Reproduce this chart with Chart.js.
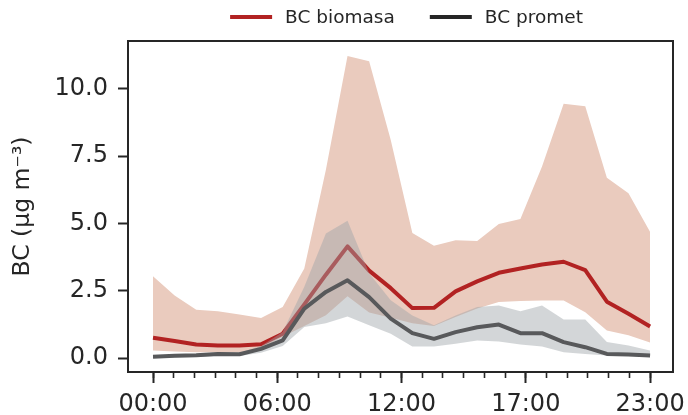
<!DOCTYPE html>
<html>
<head>
<meta charset="utf-8">
<script src="https://cdn.jsdelivr.net/npm/chart.js@4.4.1/dist/chart.umd.min.js"></script>
<style>
  html, body { margin: 0; padding: 0; background: #fff; }
  #wrap { width: 688px; height: 415px; }
</style>
</head>
<body>
<div id="wrap"><canvas id="chart" width="688" height="415"></canvas></div>
<script>
// ---- data ----
const hours = [0, 1, 2, 3, 4, 5, 6, 7, 8, 9, 10, 11, 12, 13, 14, 15, 16, 17, 18, 19, 20, 21, 22, 23];

const biomasaMedian = [0.76, 0.64, 0.51, 0.47, 0.47, 0.52, 0.91, 2.0, 3.1, 4.15, 3.25, 2.6, 1.86, 1.87, 2.48, 2.85, 3.17, 3.33, 3.48, 3.58, 3.27, 2.1, 1.65, 1.18];
const biomasaUpper  = [3.04, 2.33, 1.80, 1.74, 1.62, 1.49, 1.90, 3.33, 6.99, 11.21, 11.02, 8.1, 4.65, 4.17, 4.38, 4.35, 4.98, 5.17, 7.11, 9.44, 9.35, 6.70, 6.12, 4.69];
const biomasaLower  = [0.29, 0.25, 0.22, 0.22, 0.22, 0.35, 0.8, 1.2, 1.6, 2.3, 1.7, 1.5, 1.3, 1.2, 1.53, 1.85, 2.09, 2.12, 2.14, 2.14, 1.71, 1.03, 0.85, 0.58];

const prometMedian = [0.06, 0.09, 0.11, 0.16, 0.15, 0.35, 0.66, 1.84, 2.46, 2.89, 2.27, 1.47, 0.93, 0.72, 0.97, 1.15, 1.25, 0.93, 0.93, 0.6, 0.41, 0.16, 0.14, 0.10];
const prometUpper  = [0.12, 0.13, 0.15, 0.22, 0.2, 0.45, 0.97, 2.65, 4.63, 5.10, 3.15, 2.15, 1.59, 1.22, 1.59, 1.9, 1.96, 1.74, 1.96, 1.44, 1.44, 0.6, 0.47, 0.29];
const prometLower  = [0.02, 0.03, 0.05, 0.08, 0.08, 0.2, 0.45, 1.16, 1.3, 1.55, 1.22, 0.91, 0.44, 0.44, 0.54, 0.66, 0.62, 0.51, 0.44, 0.22, 0.16, 0.1, 0.08, 0.05];

// x axis: 25 tick slots spread over the 24 hours, labelled every 6th slot
const tickSlotCount = 25;
const majorSlots    = [0, 6, 12, 18, 24];
const majorLabels   = ["00:00", "06:00", "12:00", "17:00", "23:00"];
const yTicks        = [0, 2.5, 5, 7.5, 10];

const seriesNames  = ["BC biomasa", "BC promet"];

// ---- styles ----
const INK   = "#262626";
const FONT  = '"DejaVu Sans", sans-serif';
const RED   = "#b22222";
const GREY  = "#58595b";
const legendColors = [RED, INK];

const pts = arr => hours.map((h, i) => ({ x: h, y: arr[i] }));
const slotValue = k => k * (hours.length - 1) / (tickSlotCount - 1);

// ---- plugins ----
const frame = {
  id: "frame",
  afterDraw(chart) {
    const { ctx, chartArea: a } = chart;
    ctx.save();
    ctx.strokeStyle = INK;
    ctx.lineWidth = 2;
    ctx.strokeRect(a.left, a.top, a.right - a.left, a.bottom - a.top);
    ctx.restore();
  }
};

const topLegend = {
  id: "topLegend",
  afterDraw(chart) {
    const { ctx, chartArea: a } = chart;
    const sw = 42, gap = 13, spacing = 35, y = 17;
    ctx.save();
    ctx.font = "18.5px " + FONT;
    const widths = seriesNames.map(t => sw + gap + ctx.measureText(t).width);
    const total = widths.reduce((s, w) => s + w, 0) + spacing * (widths.length - 1);
    let x = (a.left + a.right) / 2 - total / 2 + 6;
    seriesNames.forEach((t, i) => {
      ctx.strokeStyle = legendColors[i];
      ctx.lineWidth = 4;
      ctx.beginPath();
      ctx.moveTo(x, y);
      ctx.lineTo(x + sw, y);
      ctx.stroke();
      ctx.fillStyle = INK;
      ctx.textBaseline = "middle";
      ctx.fillText(t, x + sw + gap, y + 1);
      x += widths[i] + spacing;
    });
    ctx.restore();
  }
};

// keep the plot box fixed: no extra side padding for overhanging labels
const noSidePad = h => s => { s.height = h; s.paddingLeft = 0; s.paddingRight = 0; };

// ---- chart ----
const lineBase = { pointRadius: 0, tension: 0, borderJoinStyle: "round", borderCapStyle: "butt" };
const bandBase = { pointRadius: 0, tension: 0, borderWidth: 0 };

new Chart(document.getElementById("chart"), {
  type: "line",
  data: {
    datasets: [
      { ...lineBase, label: seriesNames[1], data: pts(prometMedian), borderColor: GREY, borderWidth: 4, fill: false, order: 0 },
      { ...bandBase, label: "promet upper", data: pts(prometUpper), backgroundColor: "rgba(158,163,168,0.45)", fill: 2, order: 1 },
      { ...bandBase, label: "promet lower", data: pts(prometLower), fill: false, order: 2 },
      { ...lineBase, label: seriesNames[0], data: pts(biomasaMedian), borderColor: RED, borderWidth: 4, fill: false, order: 3 },
      { ...bandBase, label: "biomasa upper", data: pts(biomasaUpper), backgroundColor: "rgb(234,203,190)", fill: 5, order: 4 },
      { ...bandBase, label: "biomasa lower", data: pts(biomasaLower), fill: false, order: 5 }
    ]
  },
  options: {
    responsive: false,
    animation: false,
    devicePixelRatio: 1,
    layout: { padding: { top: 41, right: 15, left: 0, bottom: 0 } },
    plugins: { legend: { display: false }, tooltip: { enabled: false } },
    scales: {
      x2: {
        type: "linear", position: "bottom", weight: 0,
        min: -1.157, max: 24.06,
        afterBuildTicks: s => { s.ticks = Array.from({ length: tickSlotCount }, (_, k) => ({ value: slotValue(k) })); },
        afterFit: noSidePad(0),
        ticks: { display: false },
        border: { display: false },
        grid: { drawOnChartArea: false, tickLength: 6, tickWidth: 1.6, tickColor: INK }
      },
      x: {
        type: "linear", position: "bottom", weight: 1,
        min: -1.157, max: 24.06,
        afterBuildTicks: s => { s.ticks = majorSlots.map(k => ({ value: slotValue(k) })); },
        afterFit: noSidePad(43),
        ticks: {
          autoSkip: false, maxRotation: 0, padding: 7, color: INK,
          font: { family: FONT, size: 24 },
          callback: (v, i) => majorLabels[i]
        },
        border: { display: true, color: INK, width: 2 },
        grid: { drawOnChartArea: false, tickLength: 11, tickWidth: 2, tickColor: INK }
      },
      y: {
        type: "linear", min: -0.51, max: 11.77,
        afterBuildTicks: s => { s.ticks = yTicks.map(v => ({ value: v })); },
        afterFit: s => { s.width = 128; s.paddingTop = 0; s.paddingBottom = 0; },
        ticks: {
          padding: 10, color: INK,
          font: { family: FONT, size: 24 },
          callback: v => v.toFixed(1)
        },
        title: {
          display: true, text: "BC (µg m⁻³)", color: INK,
          font: { family: FONT, size: 23.5 },
          padding: { top: 9, bottom: 0 }
        },
        border: { display: true, color: INK, width: 2 },
        grid: { drawOnChartArea: false, tickLength: 10, tickWidth: 2, tickColor: INK }
      }
    }
  },
  plugins: [frame, topLegend]
});
</script>
</body>
</html>
